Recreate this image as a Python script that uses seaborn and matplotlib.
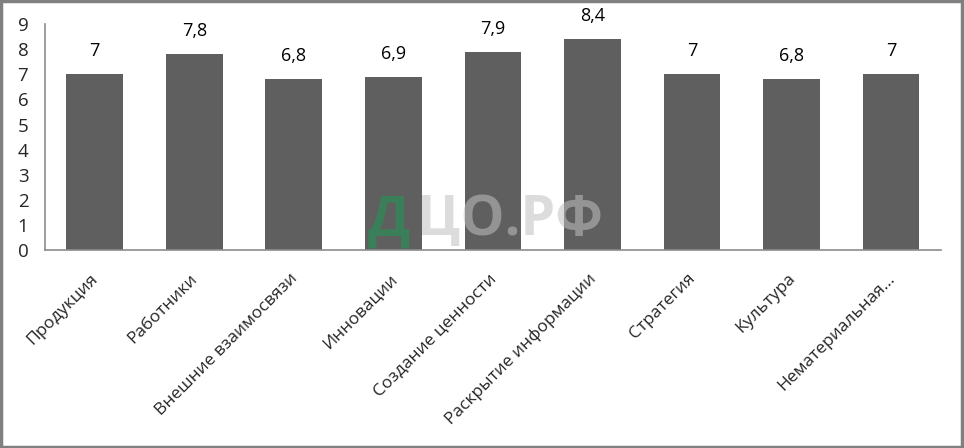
import matplotlib
matplotlib.use("Agg")
import matplotlib.pyplot as plt
import seaborn as sns
import pandas as pd
from matplotlib.patches import Rectangle
from matplotlib.transforms import ScaledTranslation

categories = ["Продукция", "Работники", "Внешние взаимосвязи", "Инновации",
              "Создание ценности", "Раскрытие информации", "Стратегия",
              "Культура", "Нематериальная..."]
values = [7, 7.8, 6.8, 6.9, 7.9, 8.4, 7, 6.8, 7]
value_labels = ["7", "7,8", "6,8", "6,9", "7,9", "8,4", "7", "6,8", "7"]
yticks = [0, 1, 2, 3, 4, 5, 6, 7, 8, 9]

sns.set_theme(style="white")
plt.rcParams['font.family'] = ['Open Sans', 'DejaVu Sans']

df = pd.DataFrame({"cat": categories, "val": values})

fig = plt.figure(figsize=(9.64, 4.48), dpi=100)
ax = fig.add_axes([0.0467, 0.442, 0.976 - 0.0467, 0.946 - 0.442])
sns.barplot(data=df, x="cat", y="val", color="#5f5f5f", saturation=1,
            width=0.57, ax=ax, edgecolor="none")

ax.set_ylim(0, 9)
ax.set_xlim(-0.5, len(categories) - 0.5)
ax.set_yticks(yticks)
ax.set_yticklabels([str(t) for t in yticks], fontsize=13.5)
ax.tick_params(axis='y', length=0, pad=12)
ax.tick_params(axis='x', length=0, pad=19)
ax.set_xticks(range(len(categories)))
ax.set_xticklabels(categories, rotation=45, ha='right', va='center',
                   rotation_mode='anchor', fontsize=12.5)
offset = ScaledTranslation(1 / 100, 0, fig.dpi_scale_trans)
for lab in ax.get_xticklabels():
    lab.set_transform(lab.get_transform() + offset)
ax.set_xlabel("")
ax.set_ylabel("")
for s in ["top", "right"]:
    ax.spines[s].set_visible(False)
for s in ["left", "bottom"]:
    ax.spines[s].set_color("#8c8c8c")
    ax.spines[s].set_linewidth(1.2)

for i, (v, lab) in enumerate(zip(values, value_labels)):
    ax.annotate(lab, (i, v), xytext=(0, 10), textcoords="offset points",
                ha="center", va="bottom", fontsize=13, color="black")

# watermark
fig.text(0.382, 0.446, "Д", fontsize=40, fontweight="bold", color="#2e8b57",
         alpha=0.75, ha="left", va="bottom")
fig.text(0.433, 0.446, "ЦО.РФ", fontsize=40, fontweight="bold", color="#c0c0c0",
         alpha=0.55, ha="left", va="bottom")

fig.patches.append(Rectangle((0.001, 0.002), 0.997, 0.995, transform=fig.transFigure,
                             fill=False, edgecolor="#808080", linewidth=2.5))

fig.savefig("out.png", dpi=100, facecolor="white")
